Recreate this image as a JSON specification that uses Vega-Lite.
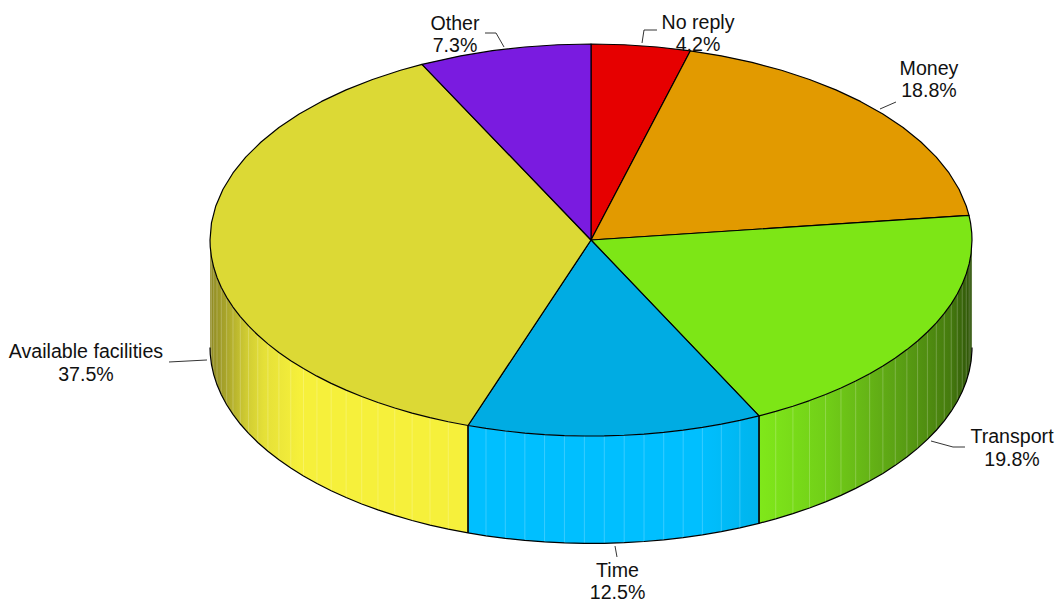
{"$schema":"https://vega.github.io/schema/vega-lite/v6.json","width":1058,"height":606,"padding":0,"autosize":{"type":"none"},"background":"white","config":{"view":{"stroke":null}},
"datasets":{
"wall":[
{"slice":"Transport","a":90,"x":1,"top":0,"bottom":-0.548},
{"slice":"Transport","a":91,"x":0.99985,"top":-0.01745,"bottom":-0.56545},
{"slice":"Transport","a":94,"x":0.99756,"top":-0.06976,"bottom":-0.61776},
{"slice":"Transport","a":97,"x":0.99255,"top":-0.12187,"bottom":-0.66987},
{"slice":"Transport","a":100,"x":0.98481,"top":-0.17365,"bottom":-0.72165},
{"slice":"Transport","a":103,"x":0.97437,"top":-0.22495,"bottom":-0.77295},
{"slice":"Transport","a":106,"x":0.96126,"top":-0.27564,"bottom":-0.82364},
{"slice":"Transport","a":109,"x":0.94552,"top":-0.32557,"bottom":-0.87357},
{"slice":"Transport","a":112,"x":0.92718,"top":-0.37461,"bottom":-0.92261},
{"slice":"Transport","a":115,"x":0.90631,"top":-0.42262,"bottom":-0.97062},
{"slice":"Transport","a":118,"x":0.88295,"top":-0.46947,"bottom":-1.01747},
{"slice":"Transport","a":121,"x":0.85717,"top":-0.51504,"bottom":-1.06304},
{"slice":"Transport","a":124,"x":0.82904,"top":-0.55919,"bottom":-1.10719},
{"slice":"Transport","a":127,"x":0.79864,"top":-0.60182,"bottom":-1.14982},
{"slice":"Transport","a":130,"x":0.76604,"top":-0.64279,"bottom":-1.19079},
{"slice":"Transport","a":133,"x":0.73135,"top":-0.682,"bottom":-1.23},
{"slice":"Transport","a":136,"x":0.69466,"top":-0.71934,"bottom":-1.26734},
{"slice":"Transport","a":139,"x":0.65606,"top":-0.75471,"bottom":-1.30271},
{"slice":"Transport","a":142,"x":0.61566,"top":-0.78801,"bottom":-1.33601},
{"slice":"Transport","a":145,"x":0.57358,"top":-0.81915,"bottom":-1.36715},
{"slice":"Transport","a":148,"x":0.52992,"top":-0.84805,"bottom":-1.39605},
{"slice":"Transport","a":151,"x":0.48481,"top":-0.87462,"bottom":-1.42262},
{"slice":"Transport","a":153.83,"x":0.441,"top":-0.8975,"bottom":-1.4455},
{"slice":"Time","a":153.83,"x":0.441,"top":-0.8975,"bottom":-1.4455},
{"slice":"Time","a":157,"x":0.39073,"top":-0.9205,"bottom":-1.4685},
{"slice":"Time","a":160,"x":0.34202,"top":-0.93969,"bottom":-1.48769},
{"slice":"Time","a":163,"x":0.29237,"top":-0.9563,"bottom":-1.5043},
{"slice":"Time","a":166,"x":0.24192,"top":-0.9703,"bottom":-1.5183},
{"slice":"Time","a":169,"x":0.19081,"top":-0.98163,"bottom":-1.52963},
{"slice":"Time","a":172,"x":0.13917,"top":-0.99027,"bottom":-1.53827},
{"slice":"Time","a":175,"x":0.08716,"top":-0.99619,"bottom":-1.54419},
{"slice":"Time","a":178,"x":0.0349,"top":-0.99939,"bottom":-1.54739},
{"slice":"Time","a":181,"x":-0.01745,"top":-0.99985,"bottom":-1.54785},
{"slice":"Time","a":184,"x":-0.06976,"top":-0.99756,"bottom":-1.54556},
{"slice":"Time","a":187,"x":-0.12187,"top":-0.99255,"bottom":-1.54055},
{"slice":"Time","a":190,"x":-0.17365,"top":-0.98481,"bottom":-1.53281},
{"slice":"Time","a":193,"x":-0.22495,"top":-0.97437,"bottom":-1.52237},
{"slice":"Time","a":196,"x":-0.27564,"top":-0.96126,"bottom":-1.50926},
{"slice":"Time","a":198.83,"x":-0.3228,"top":-0.9465,"bottom":-1.4945},
{"slice":"Available facilities","a":198.83,"x":-0.3228,"top":-0.9465,"bottom":-1.4945},
{"slice":"Available facilities","a":202,"x":-0.37461,"top":-0.92718,"bottom":-1.47518},
{"slice":"Available facilities","a":205,"x":-0.42262,"top":-0.90631,"bottom":-1.45431},
{"slice":"Available facilities","a":208,"x":-0.46947,"top":-0.88295,"bottom":-1.43095},
{"slice":"Available facilities","a":211,"x":-0.51504,"top":-0.85717,"bottom":-1.40517},
{"slice":"Available facilities","a":214,"x":-0.55919,"top":-0.82904,"bottom":-1.37704},
{"slice":"Available facilities","a":217,"x":-0.60182,"top":-0.79864,"bottom":-1.34664},
{"slice":"Available facilities","a":220,"x":-0.64279,"top":-0.76604,"bottom":-1.31404},
{"slice":"Available facilities","a":223,"x":-0.682,"top":-0.73135,"bottom":-1.27935},
{"slice":"Available facilities","a":226,"x":-0.71934,"top":-0.69466,"bottom":-1.24266},
{"slice":"Available facilities","a":229,"x":-0.75471,"top":-0.65606,"bottom":-1.20406},
{"slice":"Available facilities","a":232,"x":-0.78801,"top":-0.61566,"bottom":-1.16366},
{"slice":"Available facilities","a":235,"x":-0.81915,"top":-0.57358,"bottom":-1.12158},
{"slice":"Available facilities","a":238,"x":-0.84805,"top":-0.52992,"bottom":-1.07792},
{"slice":"Available facilities","a":241,"x":-0.87462,"top":-0.48481,"bottom":-1.03281},
{"slice":"Available facilities","a":244,"x":-0.89879,"top":-0.43837,"bottom":-0.98637},
{"slice":"Available facilities","a":247,"x":-0.9205,"top":-0.39073,"bottom":-0.93873},
{"slice":"Available facilities","a":250,"x":-0.93969,"top":-0.34202,"bottom":-0.89002},
{"slice":"Available facilities","a":253,"x":-0.9563,"top":-0.29237,"bottom":-0.84037},
{"slice":"Available facilities","a":256,"x":-0.9703,"top":-0.24192,"bottom":-0.78992},
{"slice":"Available facilities","a":259,"x":-0.98163,"top":-0.19081,"bottom":-0.73881},
{"slice":"Available facilities","a":262,"x":-0.99027,"top":-0.13917,"bottom":-0.68717},
{"slice":"Available facilities","a":265,"x":-0.99619,"top":-0.08716,"bottom":-0.63516},
{"slice":"Available facilities","a":268,"x":-0.99939,"top":-0.0349,"bottom":-0.5829},
{"slice":"Available facilities","a":270,"x":-1,"top":0,"bottom":-0.548}
],
"top":[
{"slice":"No reply","a":-1,"x":0,"y":0},{"slice":"No reply","a":0,"x":0,"y":1},{"slice":"No reply","a":5,"x":0.08716,"y":0.99619},{"slice":"No reply","a":10,"x":0.17365,"y":0.98481},{"slice":"No reply","a":15.12,"x":0.26084,"y":0.96538},{"slice":"No reply","a":999,"x":0,"y":0},
{"slice":"Money","a":-1,"x":0,"y":0},{"slice":"Money","a":15.12,"x":0.26084,"y":0.96538},{"slice":"Money","a":20,"x":0.34202,"y":0.93969},{"slice":"Money","a":25,"x":0.42262,"y":0.90631},{"slice":"Money","a":30,"x":0.5,"y":0.86603},{"slice":"Money","a":35,"x":0.57358,"y":0.81915},{"slice":"Money","a":40,"x":0.64279,"y":0.76604},{"slice":"Money","a":45,"x":0.70711,"y":0.70711},{"slice":"Money","a":50,"x":0.76604,"y":0.64279},{"slice":"Money","a":55,"x":0.81915,"y":0.57358},{"slice":"Money","a":60,"x":0.86603,"y":0.5},{"slice":"Money","a":65,"x":0.90631,"y":0.42262},{"slice":"Money","a":70,"x":0.93969,"y":0.34202},{"slice":"Money","a":75,"x":0.96593,"y":0.25882},{"slice":"Money","a":80,"x":0.98481,"y":0.17365},{"slice":"Money","a":82.8,"x":0.99211,"y":0.12533},{"slice":"Money","a":999,"x":0,"y":0},
{"slice":"Transport","a":-1,"x":0,"y":0},{"slice":"Transport","a":82.8,"x":0.99211,"y":0.12533},{"slice":"Transport","a":85,"x":0.99619,"y":0.08716},{"slice":"Transport","a":88,"x":0.99939,"y":0.0349},{"slice":"Transport","a":90,"x":1,"y":0},{"slice":"Transport","a":94,"x":0.99756,"y":-0.06976},{"slice":"Transport","a":97,"x":0.99255,"y":-0.12187},{"slice":"Transport","a":100,"x":0.98481,"y":-0.17365},{"slice":"Transport","a":103,"x":0.97437,"y":-0.22495},{"slice":"Transport","a":106,"x":0.96126,"y":-0.27564},{"slice":"Transport","a":109,"x":0.94552,"y":-0.32557},{"slice":"Transport","a":112,"x":0.92718,"y":-0.37461},{"slice":"Transport","a":115,"x":0.90631,"y":-0.42262},{"slice":"Transport","a":118,"x":0.88295,"y":-0.46947},{"slice":"Transport","a":121,"x":0.85717,"y":-0.51504},{"slice":"Transport","a":124,"x":0.82904,"y":-0.55919},{"slice":"Transport","a":127,"x":0.79864,"y":-0.60182},{"slice":"Transport","a":130,"x":0.76604,"y":-0.64279},{"slice":"Transport","a":133,"x":0.73135,"y":-0.682},{"slice":"Transport","a":136,"x":0.69466,"y":-0.71934},{"slice":"Transport","a":139,"x":0.65606,"y":-0.75471},{"slice":"Transport","a":142,"x":0.61566,"y":-0.78801},{"slice":"Transport","a":145,"x":0.57358,"y":-0.81915},{"slice":"Transport","a":148,"x":0.52992,"y":-0.84805},{"slice":"Transport","a":151,"x":0.48481,"y":-0.87462},{"slice":"Transport","a":153.83,"x":0.441,"y":-0.8975},{"slice":"Transport","a":999,"x":0,"y":0},
{"slice":"Time","a":-1,"x":0,"y":0},{"slice":"Time","a":153.83,"x":0.441,"y":-0.8975},{"slice":"Time","a":157,"x":0.39073,"y":-0.9205},{"slice":"Time","a":160,"x":0.34202,"y":-0.93969},{"slice":"Time","a":163,"x":0.29237,"y":-0.9563},{"slice":"Time","a":166,"x":0.24192,"y":-0.9703},{"slice":"Time","a":169,"x":0.19081,"y":-0.98163},{"slice":"Time","a":172,"x":0.13917,"y":-0.99027},{"slice":"Time","a":175,"x":0.08716,"y":-0.99619},{"slice":"Time","a":178,"x":0.0349,"y":-0.99939},{"slice":"Time","a":181,"x":-0.01745,"y":-0.99985},{"slice":"Time","a":184,"x":-0.06976,"y":-0.99756},{"slice":"Time","a":187,"x":-0.12187,"y":-0.99255},{"slice":"Time","a":190,"x":-0.17365,"y":-0.98481},{"slice":"Time","a":193,"x":-0.22495,"y":-0.97437},{"slice":"Time","a":196,"x":-0.27564,"y":-0.96126},{"slice":"Time","a":198.83,"x":-0.3228,"y":-0.9465},{"slice":"Time","a":999,"x":0,"y":0},
{"slice":"Available facilities","a":-1,"x":0,"y":0},{"slice":"Available facilities","a":198.83,"x":-0.3228,"y":-0.9465},{"slice":"Available facilities","a":202,"x":-0.37461,"y":-0.92718},{"slice":"Available facilities","a":205,"x":-0.42262,"y":-0.90631},{"slice":"Available facilities","a":208,"x":-0.46947,"y":-0.88295},{"slice":"Available facilities","a":211,"x":-0.51504,"y":-0.85717},{"slice":"Available facilities","a":214,"x":-0.55919,"y":-0.82904},{"slice":"Available facilities","a":217,"x":-0.60182,"y":-0.79864},{"slice":"Available facilities","a":220,"x":-0.64279,"y":-0.76604},{"slice":"Available facilities","a":223,"x":-0.682,"y":-0.73135},{"slice":"Available facilities","a":226,"x":-0.71934,"y":-0.69466},{"slice":"Available facilities","a":229,"x":-0.75471,"y":-0.65606},{"slice":"Available facilities","a":232,"x":-0.78801,"y":-0.61566},{"slice":"Available facilities","a":235,"x":-0.81915,"y":-0.57358},{"slice":"Available facilities","a":238,"x":-0.84805,"y":-0.52992},{"slice":"Available facilities","a":241,"x":-0.87462,"y":-0.48481},{"slice":"Available facilities","a":244,"x":-0.89879,"y":-0.43837},{"slice":"Available facilities","a":247,"x":-0.9205,"y":-0.39073},{"slice":"Available facilities","a":250,"x":-0.93969,"y":-0.34202},{"slice":"Available facilities","a":253,"x":-0.9563,"y":-0.29237},{"slice":"Available facilities","a":256,"x":-0.9703,"y":-0.24192},{"slice":"Available facilities","a":259,"x":-0.98163,"y":-0.19081},{"slice":"Available facilities","a":262,"x":-0.99027,"y":-0.13917},{"slice":"Available facilities","a":265,"x":-0.99619,"y":-0.08716},{"slice":"Available facilities","a":268,"x":-0.99939,"y":-0.0349},{"slice":"Available facilities","a":270,"x":-1,"y":0},{"slice":"Available facilities","a":275,"x":-0.99619,"y":0.08716},{"slice":"Available facilities","a":280,"x":-0.98481,"y":0.17365},{"slice":"Available facilities","a":285,"x":-0.96593,"y":0.25882},{"slice":"Available facilities","a":290,"x":-0.93969,"y":0.34202},{"slice":"Available facilities","a":295,"x":-0.90631,"y":0.42262},{"slice":"Available facilities","a":300,"x":-0.86603,"y":0.5},{"slice":"Available facilities","a":305,"x":-0.81915,"y":0.57358},{"slice":"Available facilities","a":310,"x":-0.76604,"y":0.64279},{"slice":"Available facilities","a":315,"x":-0.70711,"y":0.70711},{"slice":"Available facilities","a":320,"x":-0.64279,"y":0.76604},{"slice":"Available facilities","a":325,"x":-0.57358,"y":0.81915},{"slice":"Available facilities","a":330,"x":-0.5,"y":0.86603},{"slice":"Available facilities","a":333.67,"x":-0.4436,"y":0.8962},{"slice":"Available facilities","a":999,"x":0,"y":0},
{"slice":"Other","a":-1,"x":0,"y":0},{"slice":"Other","a":333.67,"x":-0.4436,"y":0.8962},{"slice":"Other","a":340,"x":-0.34202,"y":0.93969},{"slice":"Other","a":345,"x":-0.25882,"y":0.96593},{"slice":"Other","a":350,"x":-0.17365,"y":0.98481},{"slice":"Other","a":355,"x":-0.08716,"y":0.99619},{"slice":"Other","a":360,"x":0,"y":1},{"slice":"Other","a":999,"x":0,"y":0}
],
"leaders":[
{"slice":"Other","o":1,"x":-0.2782,"y":1.0561},{"slice":"Other","o":2,"x":-0.2493,"y":1.0561},{"slice":"Other","o":3,"x":-0.2283,"y":0.9847},
{"slice":"No reply","o":1,"x":0.1339,"y":1.0051},{"slice":"No reply","o":2,"x":0.1391,"y":1.0714},{"slice":"No reply","o":3,"x":0.1732,"y":1.0714},
{"slice":"Money","o":1,"x":0.7585,"y":0.6684},{"slice":"Money","o":2,"x":0.8005,"y":0.7041},
{"slice":"Transport","o":1,"x":0.8924,"y":-1.0255},{"slice":"Transport","o":2,"x":0.9501,"y":-1.0561},{"slice":"Transport","o":3,"x":0.9816,"y":-1.0561},
{"slice":"Time","o":1,"x":0.063,"y":-1.5612},{"slice":"Time","o":2,"x":0.0682,"y":-1.6173},
{"slice":"Available facilities","o":1,"x":-1.1076,"y":-0.6224},{"slice":"Available facilities","o":2,"x":-1.0079,"y":-0.6122}
],
"labels":[
{"text":"Other\n7.3%","x":-0.357,"y":1.1021},
{"text":"No reply\n4.2%","x":0.2808,"y":1.1097},
{"text":"Money\n18.8%","x":0.8871,"y":0.8725},
{"text":"Transport\n19.8%","x":1.105,"y":-1.0076},
{"text":"Time\n12.5%","x":0.0696,"y":-1.6887},
{"text":"Available facilities\n37.5%","x":-1.3255,"y":-0.5714}
]},
"encoding":{"x":{"field":"x","type":"quantitative","axis":null,"scale":{"domain":[-1.5512,1.2257],"nice":false,"zero":false}}},
"layer":[
{"data":{"name":"wall"},"transform":[{"filter":"datum.slice==='Transport'"}],"mark":{"type":"area","color":{"gradient":"linear","x1":0,"y1":0,"x2":1,"y2":0,"stops":[{"offset":0,"color":"#80E81A"},{"offset":0.3,"color":"#72D018"},{"offset":0.5,"color":"#66B616"},{"offset":0.66,"color":"#5AA014"},{"offset":0.8,"color":"#4F8C10"},{"offset":0.9,"color":"#457A0E"},{"offset":1,"color":"#2D5207"}]}},"encoding":{"y":{"field":"top","type":"quantitative","axis":null,"scale":{"domain":[-1.8673,1.2245],"nice":false,"zero":false}},"y2":{"field":"bottom"}}},
{"data":{"name":"wall"},"transform":[{"filter":"datum.slice==='Time'"}],"mark":{"type":"area","color":{"gradient":"linear","x1":0,"y1":0,"x2":1,"y2":0,"stops":[{"offset":0,"color":"#00BFFF"},{"offset":0.8,"color":"#00BFFF"},{"offset":1,"color":"#00B4EC"}]}},"encoding":{"y":{"field":"top","type":"quantitative","axis":null},"y2":{"field":"bottom"}}},
{"data":{"name":"wall"},"transform":[{"filter":"datum.slice==='Available facilities'"}],"mark":{"type":"area","color":{"gradient":"linear","x1":0,"y1":0,"x2":1,"y2":0,"stops":[{"offset":0,"color":"#8F8A24"},{"offset":0.06,"color":"#A8A42A"},{"offset":0.14,"color":"#CFCB33"},{"offset":0.21,"color":"#E5E038"},{"offset":0.35,"color":"#F6F03B"},{"offset":1,"color":"#F6F03B"}]}},"encoding":{"y":{"field":"top","type":"quantitative","axis":null},"y2":{"field":"bottom"}}},
{"data":{"name":"wall"},"transform":[{"filter":"datum.a>90 && datum.a<270"}],"mark":{"type":"rule","color":"white","opacity":0.22,"strokeWidth":1},"encoding":{"y":{"field":"top","type":"quantitative","axis":null},"y2":{"field":"bottom"}}},
{"data":{"name":"wall"},"transform":[{"filter":"datum.a===153.83 || datum.a===198.83"}],"mark":{"type":"rule","color":"black","strokeWidth":1.2},"encoding":{"y":{"field":"top","type":"quantitative","axis":null},"y2":{"field":"bottom"}}},
{"data":{"name":"wall"},"mark":{"type":"line","color":"black","strokeWidth":1.2},"encoding":{"y":{"field":"bottom","type":"quantitative","axis":null},"order":{"field":"a","type":"quantitative"}}},
{"data":{"name":"top"},"mark":{"type":"line","stroke":"black","strokeWidth":1.2,"strokeJoin":"round"},"encoding":{"y":{"field":"y","type":"quantitative","axis":null},"order":{"field":"a","type":"quantitative"},"fill":{"field":"slice","type":"nominal","legend":null,"scale":{"domain":["No reply","Money","Transport","Time","Available facilities","Other"],"range":["#E60000","#E29A00","#7DE616","#00ACE3","#DCD935","#7A1BE0"]}}}},
{"data":{"name":"leaders"},"mark":{"type":"line","color":"black","strokeWidth":0.8},"encoding":{"y":{"field":"y","type":"quantitative","axis":null},"order":{"field":"o","type":"quantitative"},"detail":{"field":"slice"}}},
{"data":{"name":"labels"},"mark":{"type":"text","font":"Liberation Sans","fontSize":19.6,"lineBreak":"\n","lineHeight":22.5,"align":"center","baseline":"middle","color":"#111111"},"encoding":{"y":{"field":"y","type":"quantitative","axis":null},"text":{"field":"text"}}}
]}
